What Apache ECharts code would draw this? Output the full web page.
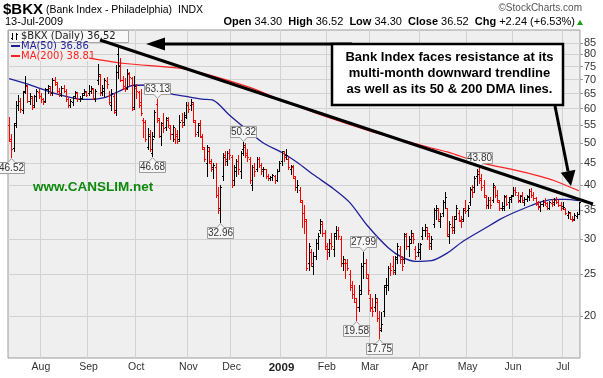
<!DOCTYPE html>
<html><head><meta charset="utf-8">
<script src="https://cdn.jsdelivr.net/npm/echarts@6/dist/echarts.min.js"></script>
<style>html,body{margin:0;padding:0;background:#fff}#c{width:603px;height:378px}</style>
</head><body><div id="c"></div>
<script>
// ---------- DATA ----------
const tradingDays = [
  ['2008-07',[14,15,16,17,18,21,22,23,24,25,28,29,30,31]],
  ['2008-08',[1,4,5,6,7,8,11,12,13,14,15,18,19,20,21,22,25,26,27,28,29]],
  ['2008-09',[2,3,4,5,8,9,10,11,12,15,16,17,18,19,22,23,24,25,26,29,30]],
  ['2008-10',[1,2,3,6,7,8,9,10,13,14,15,16,17,20,21,22,23,24,27,28,29,30,31]],
  ['2008-11',[3,4,5,6,7,10,11,12,13,14,17,18,19,20,21,24,25,26,28]],
  ['2008-12',[1,2,3,4,5,8,9,10,11,12,15,16,17,18,19,22,23,24,26,29,30,31]],
  ['2009-01',[2,5,6,7,8,9,12,13,14,15,16,20,21,22,23,26,27,28,29,30]],
  ['2009-02',[2,3,4,5,6,9,10,11,12,13,17,18,19,20,23,24,25,26,27]],
  ['2009-03',[2,3,4,5,6,9,10,11,12,13,16,17,18,19,20,23,24,25,26,27,30,31]],
  ['2009-04',[1,2,3,6,7,8,9,13,14,15,16,17,20,21,22,23,24,27,28,29,30]],
  ['2009-05',[1,4,5,6,7,8,11,12,13,14,15,18,19,20,21,22,26,27,28,29]],
  ['2009-06',[1,2,3,4,5,8,9,10,11,12,15,16,17,18,19,22,23,24,25,26,29,30]],
  ['2009-07',[1,2,6,7,8,9,10,13]]
];
const opens = [55.0,50.5,48.8,55.5,61.0,62.5,59.5,66.0,67.5,62.5,63.5,61.0,64.0,65.5,
64.0,63.0,62.5,66.5,67.0,65.0,70.0,68.5,66.0,64.5,67.0,66.0,63.0,61.0,62.0,64.0,65.0,63.0,63.5,65.0,65.5,
65.0,66.0,66.5,63.0,70.0,71.5,65.5,66.0,69.5,64.0,61.0,64.0,59.5,80.0,75.5,70.0,67.5,67.0,72.0,70.5,60.5,
67.0,65.5,62.0,56.5,56.0,49.0,52.5,47.5,52.0,61.5,56.5,52.0,55.0,54.5,56.5,54.0,52.5,51.0,52.0,51.0,56.5,56.0,57.5,
61.0,61.0,61.5,56.0,53.0,55.5,51.5,48.5,45.0,48.0,45.0,44.0,44.0,38.0,35.5,42.0,47.0,45.5,47.5,
46.5,41.0,43.0,45.5,43.0,48.5,49.0,47.5,46.0,40.0,44.0,43.5,46.0,44.5,43.5,43.5,42.0,41.5,41.8,42.0,41.0,43.2,
45.5,47.5,47.0,46.0,43.5,44.0,41.5,39.5,39.0,36.5,34.5,33.0,26.5,28.0,26.0,27.5,29.5,31.5,32.5,31.0,
28.5,28.5,29.5,28.5,31.0,31.5,30.0,26.5,26.5,26.5,25.0,23.5,22.5,21.5,21.0,23.0,26.0,26.5,24.5,
22.0,21.0,21.0,21.5,19.8,18.6,20.5,23.5,23.5,25.8,26.0,25.5,27.0,28.5,27.0,27.0,30.5,29.0,30.0,30.5,28.5,28.0,
28.0,30.5,31.5,31.5,30.5,29.5,32.5,35.0,35.0,33.0,34.5,36.5,35.5,30.5,32.0,32.0,34.0,34.5,33.0,33.5,35.5,
35.0,36.5,39.0,39.5,42.0,43.0,41.5,40.0,37.5,36.0,37.0,37.0,39.5,38.0,36.5,35.5,35.5,37.5,36.5,37.5,
38.0,39.0,38.0,37.0,38.0,36.5,37.2,37.8,38.8,38.0,37.3,36.5,35.8,36.2,36.6,35.8,35.5,36.3,36.5,37.0,36.5,36.0,
35.8,35.3,34.2,34.5,33.5,33.5,34.0,34.30];
const highs = [57.5,52.5,55.5,62.5,64.5,63.5,66.0,71.5,68.0,65.0,64.0,64.5,66.5,66.5,
65.0,63.5,67.0,68.0,67.5,70.5,71.0,69.0,67.0,67.5,68.0,66.5,63.5,63.0,64.0,66.0,65.5,64.0,65.0,66.5,66.0,
68.0,67.5,67.0,66.5,76.0,72.0,68.0,70.5,71.0,66.0,66.5,65.0,75.5,83.5,78.5,71.5,70.5,74.0,73.0,71.0,71.5,
68.5,66.0,66.5,57.0,56.5,54.0,53.5,53.0,59.5,63.13,57.0,56.0,58.5,57.5,57.5,55.0,55.0,54.0,53.5,58.0,58.5,59.0,62.0,
62.0,63.0,62.0,56.5,55.5,56.5,52.5,49.0,49.5,49.0,46.0,45.0,45.0,39.5,40.0,47.5,48.0,48.0,48.5,
47.0,44.5,46.0,47.0,48.0,50.32,50.0,48.5,46.5,44.5,45.0,46.5,46.5,45.0,44.0,43.5,42.5,42.0,42.5,42.3,43.5,45.5,
48.0,48.0,48.5,46.5,44.5,44.5,42.0,41.0,39.5,37.0,36.0,33.5,29.5,28.5,28.0,30.0,31.0,33.5,33.0,31.5,
29.5,30.0,31.0,31.0,32.2,32.0,30.5,27.5,27.0,27.0,25.5,24.0,23.5,22.0,23.5,26.5,27.99,27.0,25.0,
22.5,22.0,22.5,22.0,20.5,20.4,23.5,24.5,26.0,26.5,27.5,27.5,29.5,29.0,27.5,31.0,31.0,30.5,31.5,31.0,29.0,29.5,
29.5,32.0,32.5,32.0,31.0,30.5,35.5,36.0,35.5,34.5,37.0,38.5,35.5,33.0,34.0,34.0,36.0,35.0,34.0,35.5,37.0,
36.0,39.5,40.0,42.0,43.5,43.80,42.5,41.0,38.0,37.5,37.5,40.5,39.8,39.0,37.0,36.5,38.0,38.0,37.5,38.0,
39.5,39.5,38.5,38.0,38.5,37.5,38.0,39.2,39.3,38.5,37.6,36.8,36.5,37.0,37.4,36.5,36.8,37.2,37.3,37.5,37.0,36.5,
36.5,35.5,34.8,34.7,34.0,34.5,34.6,36.52];
const lows = [50.5,46.52,48.0,54.5,59.5,59.0,58.5,65.0,62.0,61.5,60.0,60.5,62.5,63.5,
62.0,61.5,62.0,65.0,64.5,64.5,68.0,65.5,64.0,64.0,65.5,62.5,60.5,60.5,61.0,63.5,62.5,62.5,63.0,64.5,64.0,
64.5,65.0,63.0,62.5,68.5,64.5,64.5,64.0,67.0,61.5,59.5,58.5,58.0,70.5,69.5,66.5,66.0,66.5,68.0,59.5,60.0,
63.5,60.5,58.0,51.5,50.5,48.5,48.0,46.68,51.5,56.0,51.5,49.5,53.0,53.5,54.5,51.0,50.5,50.0,50.0,50.5,54.5,55.0,57.0,
59.0,59.5,56.0,52.0,52.0,51.5,48.5,45.5,42.0,45.0,43.0,41.5,37.5,34.5,32.96,41.0,44.5,44.5,46.0,
39.5,40.0,42.0,42.5,41.5,47.0,46.5,45.5,40.5,39.0,42.0,43.0,44.0,42.5,42.0,41.5,41.0,41.0,41.2,40.5,40.8,43.0,
44.5,45.5,46.0,43.5,42.5,41.5,39.0,38.5,36.5,32.0,31.0,25.5,25.5,26.0,25.0,27.0,28.5,31.0,30.5,28.5,
27.0,27.5,28.5,27.5,30.0,30.0,26.0,25.5,24.5,25.5,23.0,22.0,21.5,19.58,20.5,22.5,24.5,24.5,22.5,
20.5,20.0,20.5,19.5,17.75,18.5,20.0,22.5,23.0,24.8,25.0,25.0,26.5,26.5,25.5,26.5,28.5,27.5,29.5,29.5,27.0,27.5,
27.0,30.0,30.5,30.0,28.5,28.5,32.0,33.5,33.0,32.0,34.0,35.5,30.5,29.5,31.0,31.0,33.5,33.0,32.0,33.0,34.5,
34.0,36.0,37.5,38.5,40.0,40.5,39.0,37.5,35.5,35.5,35.5,36.5,37.5,36.5,35.0,35.0,35.0,36.0,35.5,36.5,
37.8,38.0,36.5,36.5,36.5,36.0,36.8,37.0,37.5,37.0,36.0,35.2,34.8,35.8,36.0,35.3,35.2,35.8,36.0,36.3,35.8,35.0,
35.3,34.3,33.6,33.5,33.0,33.2,33.6,34.30];
const closes = [51.0,48.5,55.0,61.0,62.5,60.0,65.5,68.0,62.5,64.0,60.5,64.0,66.0,64.0,
63.0,62.0,66.5,67.5,65.0,70.0,69.0,66.0,65.0,67.0,66.0,63.0,61.0,62.5,63.5,65.5,63.0,63.5,64.5,66.0,64.5,
66.0,67.0,63.5,66.0,72.0,65.0,67.0,70.0,68.5,62.0,65.0,59.0,73.0,75.0,70.0,67.0,66.5,72.5,71.0,60.0,67.5,
66.0,61.0,58.5,56.0,51.0,52.0,48.5,51.0,59.0,57.0,52.0,55.5,54.0,57.0,55.0,52.5,54.5,52.5,50.5,56.0,55.0,58.0,61.0,
60.0,62.0,56.5,52.5,55.0,52.0,49.0,46.0,49.0,45.5,43.5,44.5,38.0,35.0,39.5,46.5,46.0,47.5,47.0,
40.0,44.0,45.5,43.5,47.5,49.5,47.0,46.5,41.0,44.0,43.0,46.0,44.5,43.0,43.5,42.0,41.5,41.8,42.2,41.0,43.2,45.0,
47.8,46.5,47.0,44.0,44.2,42.0,39.5,40.0,37.0,34.5,33.5,25.8,29.0,26.5,27.5,29.5,30.5,33.0,31.0,29.0,
28.0,29.5,29.0,30.5,31.5,30.5,26.5,27.0,26.5,25.8,23.3,22.5,22.0,21.0,22.5,26.0,26.5,25.0,23.0,
20.8,20.5,22.0,19.8,18.8,19.2,23.3,23.6,25.8,25.5,25.3,27.3,29.0,27.0,26.0,30.8,29.0,29.5,31.0,30.0,27.5,28.5,
29.3,31.5,32.0,31.0,29.0,30.0,35.0,35.5,33.5,34.0,36.5,37.5,30.8,32.5,31.5,33.5,35.5,33.3,33.0,35.0,34.8,
35.5,39.2,38.5,41.5,42.5,41.0,39.5,38.0,36.0,37.0,36.0,40.0,38.0,37.0,35.5,35.8,37.8,36.2,37.2,37.8,
39.0,38.5,36.8,37.8,37.0,37.2,37.5,38.8,38.0,37.3,36.2,35.6,36.2,36.6,36.3,35.5,36.5,36.2,37.0,36.5,36.0,35.5,
35.6,34.5,34.6,33.4,33.3,34.2,34.28,36.52];
const ma50Idx = [0,10,20,30,36,42,48,55,62,70,78,85,90,97,105,112,120,127,134,143,150,158,167,173,179,186,193,200,210,216,222,230,235,240,245,251];
const ma50Val = [70.3,67.8,65.0,63.2,63.0,63.6,65.6,67.9,68.0,65.1,64.0,63.1,62.7,58.0,53.5,50.0,47.6,45.1,42.3,39.2,36.5,32.2,28.7,27.3,26.7,26.8,27.9,29.7,31.9,33.3,34.5,35.9,36.7,37.1,37.1,36.86];
const ma200Idx = [34,50,75,84,105,119,134,149,164,178,186,193,208,222,234,240,251];
const ma200Val = [78.6,76.3,74.3,72.7,67.4,63.1,58.9,55.4,52.3,50.0,48.7,47.7,45.0,43.4,41.9,41.0,38.81];
const yTicks = [20,25,30,35,40,45,50,55,60,65,70,75,80,85];
const monthNames = ['Jan','Feb','Mar','Apr','May','Jun','Jul','Aug','Sep','Oct','Nov','Dec'];
const calloutIdx = [1,63,65,93,103,153,156,163,207];
const calloutKind = ['L','L','H','L','H','L','H','L','H'];
const noteLines = ['Bank Index faces resistance at its','multi-month downward trendline','as well as its 50 & 200 DMA lines.'];

// ---------- BUILD ----------
const dates = [];
tradingDays.forEach(([m, ds]) => ds.forEach(d => dates.push(m + '-' + String(d).padStart(2,'0'))));
const N = dates.length;
const LN = Math.log;
const yMin = 16.0, yMax = 91.0;
const SANS = '"Liberation Sans", Arial, Helvetica, sans-serif';
const DV = '"DejaVu Sans", Verdana, sans-serif';
const MA50C = '#1f1f99', MA200C = '#ff2020';
const PLOTBG = '#efefef';

const isMonthStart = (i) => i > 0 && dates[i].slice(0,7) !== dates[i-1].slice(0,7);
const ohlcData = dates.map((d,i) => [i, opens[i], highs[i], lows[i], closes[i]]);

function renderOHLC(params, api) {
  const i = api.value(0);
  const o = api.value(1), h = api.value(2), l = api.value(3), c = api.value(4);
  const prev = i > 0 ? closes[i-1] : o;
  const color = c >= prev ? '#000000' : '#ff0000';
  const pH = api.coord([i, LN(h)]), pL = api.coord([i, LN(l)]);
  const pO = api.coord([i, LN(o)]), pC = api.coord([i, LN(c)]);
  const x = Math.round(pH[0]) + 0.5;
  const yo = Math.round(pO[1]) + 0.5, yc = Math.round(pC[1]) + 0.5;
  const st = {stroke: color, lineWidth: 1};
  return {type:'group', children:[
    {type:'line', shape:{x1:x, y1:Math.round(pH[1]), x2:x, y2:Math.round(pL[1])+1}, style:st},
    {type:'line', shape:{x1:x-1.5, y1:yo, x2:x, y2:yo}, style:st},
    {type:'line', shape:{x1:x, y1:yc, x2:x+1.5, y2:yc}, style:st}
  ]};
}

const calloutData = calloutIdx.map((i,k) => [i, calloutKind[k]==='H' ? highs[i] : lows[i], calloutKind[k]==='H' ? 1 : 0]);
function renderCallout(params, api) {
  const i = api.value(0), v = api.value(1), hi = api.value(2);
  const p = api.coord([i, LN(v)]);
  const x = Math.round(p[0]) + 0.5, y = Math.round(p[1]) + 0.5;
  const w = 26, h = 11, gap = 5, n = 3.5;
  let pts, ty;
  if (hi) {
    const b = y - gap, t = b - h;
    pts = [[x-w/2,t],[x+w/2,t],[x+w/2,b],[x+n,b],[x,y-1],[x-n,b],[x-w/2,b]];
    ty = (t+b)/2;
  } else {
    const t = y + gap, b = t + h;
    pts = [[x-w/2,t],[x-n,t],[x,y+1],[x+n,t],[x+w/2,t],[x+w/2,b],[x-w/2,b]];
    ty = (t+b)/2;
  }
  return {type:'group', children:[
    {type:'polygon', shape:{points:pts}, style:{fill:'#f6f6f6', stroke:'#9c9c9c', lineWidth:1}},
    {type:'text', style:{text:v.toFixed(2), x:x, y:ty+0.5, align:'center', verticalAlign:'middle', font:'10px '+SANS, fill:'#333'}}
  ]};
}

const last = N-1;
const chg = closes[last] - closes[last-1];
const pct = chg / closes[last-1] * 100;
const dp = dates[last].split('-');
const dateStr = (+dp[2]) + '-' + monthNames[+dp[1]-1] + '-' + dp[0];
const f2 = v => v.toFixed(2);
const quoteLine = '{k|Open} ' + f2(opens[last]) + '  {k|High} ' + f2(highs[last]) + '  {k|Low} ' + f2(lows[last]) +
  '  {k|Close} ' + f2(closes[last]) + '  {k|Chg} ' + (chg>=0?'+':'') + f2(chg) + ' (' + (pct>=0?'+':'') + f2(pct) + '%)';

// annotation geometry (pixels)
const boxX = 332, boxY = 44, boxW = 231, boxH = 61;
const dir = [16, 80], dl = Math.hypot(dir[0], dir[1]); const ux = dir[0]/dl, uy = dir[1]/dl;
const tip = [571, 186], bc = [tip[0]-ux*15, tip[1]-uy*15];
const ZL = 60;

const graphic = [
  {type:'text', x:3, y:10, style:{text:'$BKX', font:'bold 15px '+SANS, fill:'#000', verticalAlign:'middle'}},
  {type:'text', x:46, y:10, style:{text:'(Bank Index - Philadelphia)', font:'10.5px '+SANS, fill:'#000', verticalAlign:'middle'}},
  {type:'text', x:178, y:10, style:{text:'INDX', font:'10.5px '+SANS, fill:'#000', verticalAlign:'middle'}},
  {type:'text', x:582, y:8, style:{text:'\u00A9StockCharts.com', font:'10px '+SANS, fill:'#555', align:'right', verticalAlign:'middle'}},
  {type:'text', x:5, y:22, style:{text:dateStr, font:'11px '+SANS, fill:'#000', verticalAlign:'middle'}},
  {type:'text', x:575, y:22, style:{text:quoteLine, font:'11px '+SANS, fill:'#000', align:'right', verticalAlign:'middle',
      rich:{k:{fontWeight:'bold', fontSize:11, fontFamily:SANS, fill:'#000'}}}},
  {type:'polygon', shape:{points:[[577,25],[583,25],[580,20]]}, style:{fill:'#17a017'}},
  // legend (above grid lines and series)
  {type:'rect', z:ZL, shape:{x:8.5, y:30.5, width:120, height:12}, style:{fill:'#f8f8f8', stroke:'#a8a8a8', lineWidth:1}},
  {type:'line', z:ZL, shape:{x1:12.5,y1:33,x2:12.5,y2:40}, style:{stroke:'#000',lineWidth:1}},
  {type:'line', z:ZL, shape:{x1:11,y1:38.5,x2:12.5,y2:38.5}, style:{stroke:'#000',lineWidth:1}},
  {type:'line', z:ZL, shape:{x1:16.5,y1:33,x2:16.5,y2:40}, style:{stroke:'#000',lineWidth:1}},
  {type:'line', z:ZL, shape:{x1:16.5,y1:34.5,x2:18,y2:34.5}, style:{stroke:'#000',lineWidth:1}},
  {type:'text', z:ZL, x:21, y:36.5, style:{text:'$BKX (Daily) ' + f2(closes[last]), font:'10px '+DV, fill:'#222', verticalAlign:'middle'}},
  {type:'rect', z:ZL, shape:{x:9, y:43, width:80, height:18}, style:{fill:PLOTBG}},
  {type:'rect', z:ZL, shape:{x:11, y:45, width:9, height:2}, style:{fill:MA50C}},
  {type:'text', z:ZL, x:21, y:46, style:{text:'MA(50) ' + f2(ma50Val[ma50Val.length-1]), font:'10px '+DV, fill:MA50C, verticalAlign:'middle'}},
  {type:'rect', z:ZL, shape:{x:11, y:55, width:9, height:2}, style:{fill:MA200C}},
  {type:'text', z:ZL, x:21, y:56, style:{text:'MA(200) ' + f2(ma200Val[ma200Val.length-1]), font:'10px '+DV, fill:MA200C, verticalAlign:'middle'}},
  // trendline
  {type:'line', z:100, shape:{x1:100,y1:40,x2:593,y2:204}, style:{stroke:'#000', lineWidth:3}},
  // horizontal arrow
  {type:'line', z:100, shape:{x1:160,y1:44,x2:352,y2:44}, style:{stroke:'#000', lineWidth:3}},
  {type:'polygon', z:100, shape:{points:[[146,44],[165,37.5],[165,50.5]]}, style:{fill:'#000'}},
  // note box
  {type:'rect', z:101, shape:{x:boxX, y:boxY, width:boxW, height:boxH}, style:{fill:'#fff', stroke:'#000', lineWidth:2.5}},
  {type:'text', z:102, x:boxX+boxW/2+2, y:57, style:{text:noteLines[0], font:'bold 13px '+SANS, fill:'#000', align:'center', verticalAlign:'middle'}},
  {type:'text', z:102, x:boxX+boxW/2+2, y:73.5, style:{text:noteLines[1], font:'bold 13px '+SANS, fill:'#000', align:'center', verticalAlign:'middle'}},
  {type:'text', z:102, x:boxX+boxW/2+2, y:89.5, style:{text:noteLines[2], font:'bold 13px '+SANS, fill:'#000', align:'center', verticalAlign:'middle'}},
  // down arrow
  {type:'line', z:100, shape:{x1:555,y1:106,x2:bc[0],y2:bc[1]}, style:{stroke:'#000', lineWidth:3}},
  {type:'polygon', z:100, shape:{points:[tip,[bc[0]+uy*7.5, bc[1]-ux*7.5],[bc[0]-uy*7.5, bc[1]+ux*7.5]]}, style:{fill:'#000'}},
  // website
  {type:'text', z:100, x:33, y:187, style:{text:'www.CANSLIM.net', font:'bold 13.5px '+SANS, fill:'#0d8a0d', verticalAlign:'middle'}}
];

const chart = echarts.init(document.getElementById('c'), null, {renderer:'canvas'});
chart.setOption({
  animation: false,
  backgroundColor: '#ffffff',
  grid: {left: 8, right: 23, top: 30, bottom: 20, show: true, backgroundColor: PLOTBG, borderColor: '#9a9a9a', borderWidth: 1},
  xAxis: {
    type: 'category', data: dates, boundaryGap: true,
    axisLine: {show: false},
    axisTick: {show: false, interval: isMonthStart},
    axisLabel: {
      interval: isMonthStart, margin: 4, fontSize: 10.5, fontFamily: SANS, color: '#333',
      formatter: v => { const m = +v.slice(5,7); return m === 1 ? '{y|' + v.slice(0,4) + '}' : monthNames[m-1]; },
      rich: {y: {fontWeight: 'bold', fontSize: 11.5, fontFamily: SANS, color: '#222'}}
    },
    splitLine: {show: true, interval: isMonthStart, lineStyle: {color: '#d2d2d2', width: 1}}
  },
  yAxis: {
    type: 'value', position: 'right', min: LN(yMin), max: LN(yMax),
    axisLine: {show: false},
    axisTick: {show: true, customValues: yTicks.map(LN), length: 3, lineStyle: {color: '#999'}},
    axisLabel: {customValues: yTicks.map(LN), formatter: v => String(Math.round(Math.exp(v))), fontSize: 11, fontFamily: SANS, color: '#333', margin: 4},
    splitLine: {show: true, lineStyle: {color: '#d2d2d2', width: 1}}
  },
  series: [
    {type: 'line', name: 'MA200', data: ma200Idx.map((i,k) => [i, LN(ma200Val[k])]), showSymbol: false, smooth: 0.3,
     lineStyle: {color: MA200C, width: 1.2}, z: 3},
    {type: 'line', name: 'MA50', data: ma50Idx.map((i,k) => [i, LN(ma50Val[k])]), showSymbol: false, smooth: 0.3,
     lineStyle: {color: MA50C, width: 1.3}, z: 3},
    {type: 'custom', name: 'BKX', data: ohlcData, renderItem: renderOHLC, encode: {x: 0, y: [1,2,3,4]}, z: 4, clip: false},
    {type: 'custom', name: 'callouts', data: calloutData, renderItem: renderCallout, encode: {x: 0, y: 1}, z: 5, clip: false}
  ],
  graphic: graphic
});
</script></body></html>
